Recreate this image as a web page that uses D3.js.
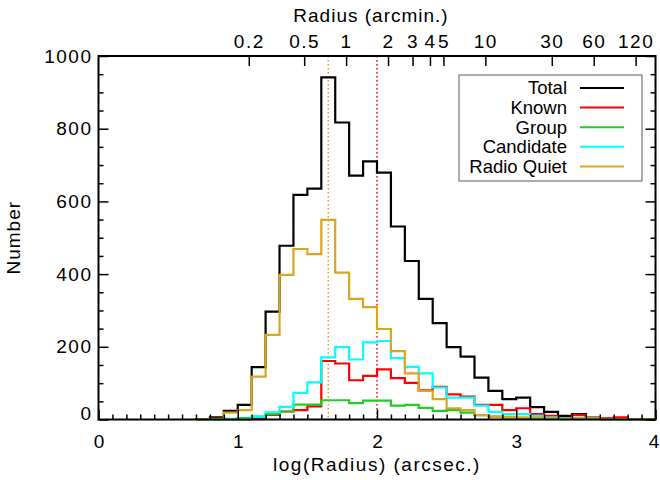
<!DOCTYPE html>
<html><head><meta charset="utf-8">
<script src="https://cdn.jsdelivr.net/npm/d3@7"></script>
<style>
body{margin:0;background:#fff;}
text{font-family:"Liberation Sans",Arial,Helvetica,sans-serif;}
</style></head><body>
<svg id="c" width="660" height="480"></svg>
<script>
// Bin left edges of log(Radius) (arcsec), width 0.1
const binStarts = [0.7,0.8,0.9,1.0,1.1,1.2,1.3,1.4,1.5,1.6,1.7,1.8,1.9,2.0,2.1,2.2,2.3,2.4,2.5,2.6,2.7,2.8,2.9,3.0,3.1,3.2,3.3,3.4,3.5,3.6,3.7,3.8,3.9];
const binWidth = 0.1;
const total      = [1,6,24,40,144,297,478,618,635,941,817,671,710,679,531,436,332,265,199,173,115,79,56,60,34,21,10,15,5,2,2,1,0];
const known      = [0,0,0,0,1,13,22,26,36,161,154,108,120,138,114,101,80,90,69,63,40,40,26,31,15,10,4,12,4,3,6,1,1];
const group      = [0,0,2,4,8,15,22,41,41,53,53,45,52,52,38,40,32,24,26,19,12,8,5,3,2,2,1,1,1,0,0,0,0];
const candidate  = [0,0,1,1,8,20,35,73,102,171,199,165,212,216,169,145,127,88,60,60,38,21,15,15,10,6,3,4,2,1,1,0,0];
const radioQuiet = [0,2,19,26,118,233,398,469,455,549,404,332,309,249,188,127,79,56,31,26,12,8,7,6,5,4,2,3,3,1,1,0,0];

const seriesNames  = ["Total","Known","Group","Candidate","Radio Quiet"];
const seriesColors = ["#000000","#ff0000","#22cc22","#00ffff","#daa520"];
const seriesData   = [total, known, group, candidate, radioQuiet];

// Bottom axis ticks
const xMajorTicks = [0,1,2,3,4];
const xMinorTicks = [0.1,0.2,0.3,0.4,0.5,0.6,0.7,0.8,0.9,1.1,1.2,1.3,1.4,1.5,1.6,1.7,1.8,1.9,2.1,2.2,2.3,2.4,2.5,2.6,2.7,2.8,2.9,3.1,3.2,3.3,3.4,3.5,3.6,3.7,3.8,3.9];
const yMajorTicks = [0,200,400,600,800,1000];
const yMinorTicks = [50,100,150,250,300,350,450,500,550,650,700,750,850,900,950];
// Top axis: radius in arcmin
const topTickLabels = ["0.2","0.5","1","2","3","4","5","10","30","60","120"];
const topTickArcmin = [0.2,0.5,1,2,3,4,5,10,30,60,120];
// Dotted reference lines (log radius arcsec)
const refLines = [1.65, 2.0];
const refColors = ["#daa520","#ff0000"];

const svg = d3.select("#c");
const L=98.5, R=655.5, T=56, B=419.5;
const x = d3.scaleLinear().domain([0,4]).range([L,R]);
const y = d3.scaleLinear().domain([0,1000]).range([B,T]);

const font = 19, ls = "1.5px";

// Reference lines
refLines.forEach((v,i)=>{
  svg.append("line").attr("x1",x(v)).attr("x2",x(v)).attr("y1",T).attr("y2",B)
    .attr("stroke",refColors[i]).attr("stroke-width",1.5).attr("stroke-dasharray","1.5,2.5");
});

// Histograms
const line = d3.line().x(d=>d[0]).y(d=>d[1]);
seriesData.forEach((vals,si)=>{
  const pts = [[x(binStarts[0]), y(0)]];
  vals.forEach((v,i)=>{
    pts.push([x(binStarts[i]), y(v)]);
    pts.push([x(binStarts[i]+binWidth), y(v)]);
  });
  pts.push([x(binStarts[binStarts.length-1]+binWidth), y(0)]);
  svg.append("path").attr("d", line(pts)).attr("fill","none")
    .attr("stroke", seriesColors[si]).attr("stroke-width",2.2).attr("stroke-linejoin","miter");
});

// Axes
function styleAxis(g){
  g.selectAll(".domain").remove();
  g.selectAll("line").attr("stroke","#000").attr("stroke-width",1.5);
  g.selectAll("text").attr("font-size",font).style("letter-spacing",ls).attr("fill","#000");
}
// bottom
const gB = svg.append("g").attr("transform",`translate(0,${B})`)
  .call(d3.axisBottom(x).tickValues(xMajorTicks).tickFormat(d3.format("d")).tickSize(-10).tickPadding(15));
styleAxis(gB);
gB.selectAll("text").style("letter-spacing","0px");
gB.selectAll(".tick").filter(d=>d===4).select("text").attr("dx","-2");
svg.append("g").attr("transform",`translate(0,${B})`)
  .call(d3.axisBottom(x).tickValues(xMinorTicks).tickFormat("").tickSize(-5)).call(styleAxis);
// top
const topVals = topTickArcmin.map(a=>Math.log10(a*60));
const gT = svg.append("g").attr("transform",`translate(0,${T})`)
  .call(d3.axisTop(x).tickValues(topVals).tickFormat((d,i)=>topTickLabels[i]).tickSize(-10).tickPadding(8));
styleAxis(gT);
// left
const gL = svg.append("g").attr("transform",`translate(${L},0)`)
  .call(d3.axisLeft(y).tickValues(yMajorTicks).tickFormat(d3.format("d")).tickSize(-10).tickPadding(6));
styleAxis(gL);
gL.selectAll(".tick").filter(d=>d===0).select("text").attr("dy","0.0em");
svg.append("g").attr("transform",`translate(${L},0)`)
  .call(d3.axisLeft(y).tickValues(yMinorTicks).tickFormat("").tickSize(-5)).call(styleAxis);
// right
svg.append("g").attr("transform",`translate(${R},0)`)
  .call(d3.axisRight(y).tickValues(yMajorTicks).tickFormat("").tickSize(-10)).call(styleAxis);
svg.append("g").attr("transform",`translate(${R},0)`)
  .call(d3.axisRight(y).tickValues(yMinorTicks).tickFormat("").tickSize(-5)).call(styleAxis);

// frame
svg.append("rect").attr("x",L).attr("y",T).attr("width",R-L).attr("height",B-T)
  .attr("fill","none").attr("stroke","#000").attr("stroke-width",2);

// titles
svg.append("text").attr("x",(L+R)/2).attr("y",471).attr("text-anchor","middle")
  .attr("font-size",font).style("letter-spacing",ls).text("log(Radius) (arcsec.)");
svg.append("text").attr("x",(L+R)/2 - 6).attr("y",22).attr("text-anchor","middle")
  .attr("font-size",font).style("letter-spacing","1px").text("Radius (arcmin.)");
svg.append("text").attr("transform",`translate(20,${(T+B)/2}) rotate(-90)`).attr("text-anchor","middle")
  .attr("font-size",font).style("letter-spacing","1px").text("Number");

// legend
const lg = svg.append("g");
lg.append("rect").attr("x",459).attr("y",75).attr("width",183).attr("height",106)
  .attr("fill","#fff").attr("stroke","#777").attr("stroke-width",1.2);
seriesNames.forEach((n,i)=>{
  const yy = 88 + i*19.6;
  lg.append("text").attr("x",567).attr("y",yy).attr("dy","0.35em").attr("text-anchor","end")
    .attr("font-size",18.5).text(n);
  lg.append("line").attr("x1",580).attr("x2",624).attr("y1",yy).attr("y2",yy)
    .attr("stroke",seriesColors[i]).attr("stroke-width",2);
});
</script></body></html>
